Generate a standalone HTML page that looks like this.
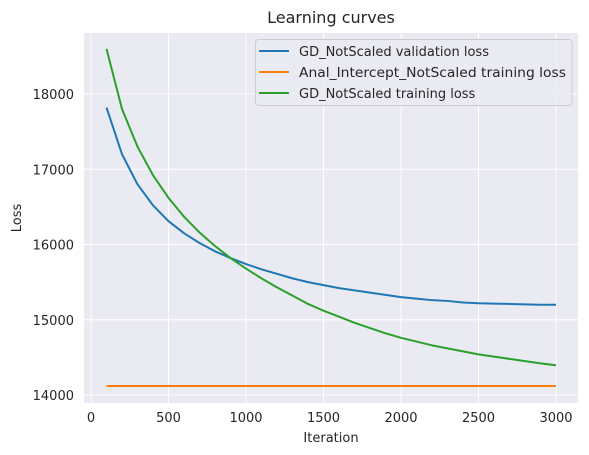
<!DOCTYPE html>
<html><head><meta charset="utf-8"><style>
html,body{margin:0;padding:0;background:#fff;}
svg{display:block;font-family:"DejaVu Sans","Liberation Sans",sans-serif;}
</style></head><body>
<svg id="chart" width="589" height="455">
<rect x="84" y="33" width="494" height="370" fill="#eaeaf2"/>
<g id="grid"></g>
<g id="ticks"></g>
<g id="series"></g>
<text x="331" y="23" text-anchor="middle" font-size="16" fill="#262626">Learning curves</text>
<text x="331" y="442" text-anchor="middle" font-size="13" fill="#262626">Iteration</text>
<text x="21" y="218" text-anchor="middle" font-size="13" fill="#262626" transform="rotate(-90 21 218)">Loss</text>
<g>
<rect x="255.5" y="39.5" width="316.5" height="66" rx="3" fill="#eaeaf2" fill-opacity="0.8" stroke="#cccccc"/>
<g><line x1="259" x2="289" y1="51" y2="51" stroke="#1f77b4" stroke-width="2"/><text x="299" y="56" font-size="13" fill="#262626">GD_NotScaled validation loss</text></g>
<g><line x1="259" x2="289" y1="72" y2="72" stroke="#ff7f0e" stroke-width="2"/><text x="299" y="77" font-size="13" fill="#262626" textLength="267" lengthAdjust="spacingAndGlyphs">Anal_Intercept_NotScaled training loss</text></g>
<g><line x1="259" x2="289" y1="93" y2="93" stroke="#2ca02c" stroke-width="2"/><text x="299" y="98" font-size="13" fill="#262626">GD_NotScaled training loss</text></g>
</g>
</svg>
<script>
const iterations=[100,200,300,400,500,600,700,800,900,1000,1100,1200,1300,1400,1500,1600,1700,1800,1900,2000,2100,2200,2300,2400,2500,2600,2700,2800,2900,3000];
const validationLoss=[17820,17200,16800,16520,16310,16150,16020,15910,15820,15740,15670,15610,15550,15500,15460,15420,15390,15360,15330,15300,15280,15260,15250,15230,15220,15215,15210,15205,15200,15200];
const interceptLoss=[14120,14120,14120,14120,14120,14120,14120,14120,14120,14120,14120,14120,14120,14120,14120,14120,14120,14120,14120,14120,14120,14120,14120,14120,14120,14120,14120,14120,14120,14120];
const trainingLoss=[18600,17800,17300,16920,16620,16370,16160,15980,15820,15680,15550,15430,15320,15210,15120,15040,14960,14890,14820,14760,14710,14660,14620,14580,14540,14510,14480,14450,14420,14395];
const xTicks=[0,500,1000,1500,2000,2500,3000];
const yTicks=[14000,15000,16000,17000,18000];
const NS='http://www.w3.org/2000/svg';
const X=v=>91+v*(556-91)/3000;
const Y=v=>395-(v-14000)*75.25/1000;
const grid=document.getElementById('grid'),ticks=document.getElementById('ticks'),series=document.getElementById('series');
function mk(t,a,p){const e=document.createElementNS(NS,t);for(const k in a)e.setAttribute(k,a[k]);p.appendChild(e);return e;}
xTicks.forEach(v=>{
 const l=mk('line',{x1:X(v),x2:X(v),y1:33,y2:403,stroke:'#fff','stroke-width':1},grid);
 
 
 const t=mk('text',{x:X(v),y:422,'text-anchor':'middle','font-size':13,fill:'#262626'},ticks);
 t.textContent=v;
 
 
});
yTicks.forEach(v=>{
 const l=mk('line',{x1:84,x2:578,y1:Y(v),y2:Y(v),stroke:'#fff','stroke-width':1},grid);
 
 
 const t=mk('text',{x:74,y:Y(v)+5,'text-anchor':'end','font-size':13,fill:'#262626'},ticks);
 t.textContent=v;
 
 
});
function line(vals,color,name){
 const p=mk('polyline',{points:vals.map((v,i)=>X(iterations[i])+','+Y(v)).join(' '),fill:'none',stroke:color,'stroke-width':2,'stroke-linejoin':'round'},series);
 
 
}
line(validationLoss,'#1f77b4','validation-loss-line');
line(interceptLoss,'#ff7f0e','anal-intercept-loss-line');
line(trainingLoss,'#2ca02c','training-loss-line');
</script>
</body></html>
